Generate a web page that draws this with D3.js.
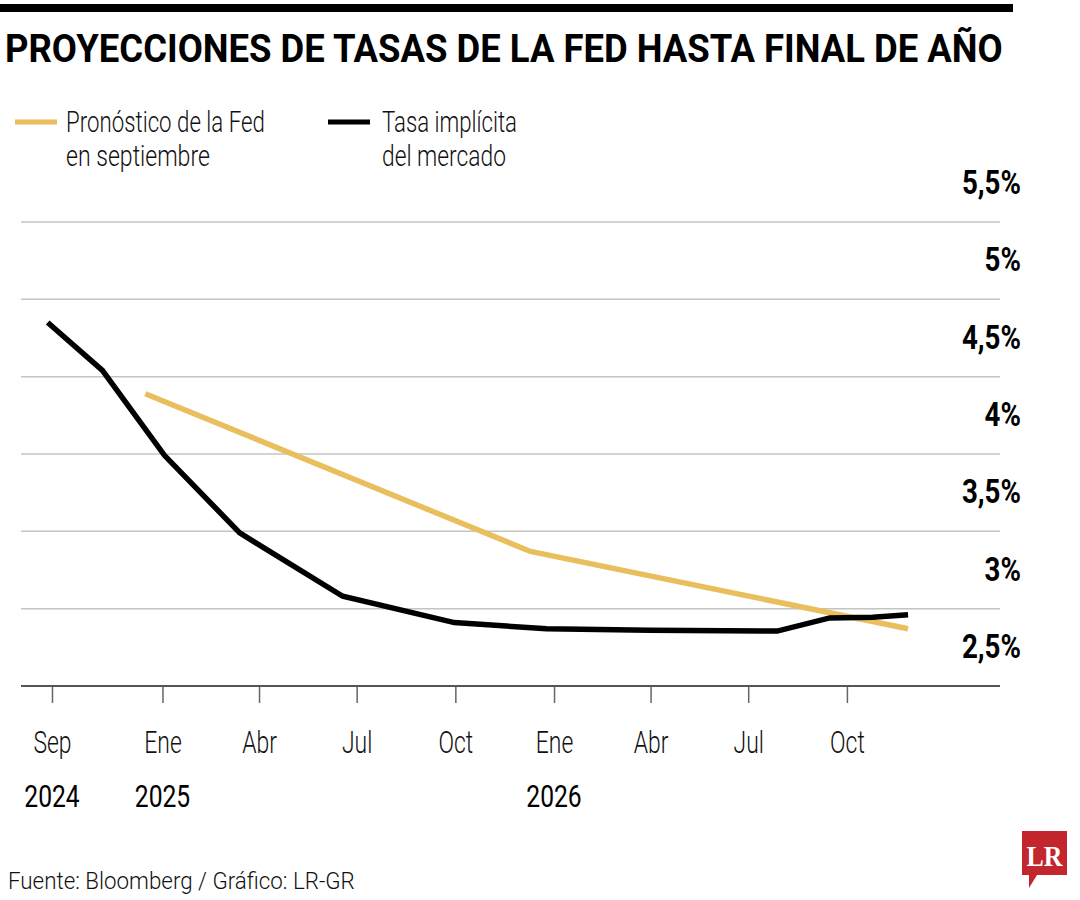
<!DOCTYPE html>
<html>
<head>
<meta charset="utf-8">
<script src="https://cdn.jsdelivr.net/npm/d3@7"></script>
<style>
  html, body { margin: 0; padding: 0; background: #fff; }
  svg { display: block; }
  .cond { font-family: Roboto, "Liberation Sans", "Noto Sans", sans-serif; }
</style>
</head>
<body>
<svg id="chart" width="1080" height="900"></svg>
<script>
// ---- data ----
const titleText = "PROYECCIONES DE TASAS DE LA FED HASTA FINAL DE AÑO";
const seriesNames = ["Pronóstico de la Fed|en septiembre", "Tasa implícita|del mercado"];
const marketDates = ["2024-09-16","2024-11-06","2025-01-03","2025-03-14","2025-06-18","2025-09-30","2025-12-25","2026-03-31","2026-07-28","2026-09-15","2026-10-25","2026-11-27"];
const marketRates = [4.85, 4.54, 3.99, 3.49, 3.08, 2.91, 2.87, 2.86, 2.855, 2.94, 2.945, 2.96];
const fedDates = ["2024-12-16","2025-12-10","2026-11-27"];
const fedRates = [4.39, 3.37, 2.87];
const yTicks = [2.5, 3, 3.5, 4, 4.5, 5, 5.5];
const yTickLabels = ["2,5%", "3%", "3,5%", "4%", "4,5%", "5%", "5,5%"];
const xTickDates = ["2024-09-20","2025-01-01","2025-04-01","2025-07-01","2025-10-01","2026-01-01","2026-04-01","2026-07-01","2026-10-01"];
const xTickLabels = ["Sep","Ene","Abr","Jul","Oct","Ene","Abr","Jul","Oct"];
const yearDates = ["2024-09-20","2025-01-01","2026-01-01"];
const yearLabels = ["2024","2025","2026"];
const sourceText = "Fuente: Bloomberg / Gráfico: LR-GR";

const parse = d3.utcParse("%Y-%m-%d");
const svg = d3.select("#chart");
const COL_FED = "#E9BE5C", COL_MKT = "#000";

// horizontally condense a text node about its anchor x (by factor or to a target width)
function squeeze(node, opts) {
  const w = node.getComputedTextLength();
  const f = opts.width ? opts.width / w : opts.factor;
  const x0 = +(node.getAttribute("x") || 0);
  node.setAttribute("transform", `translate(${x0},0) scale(${f},1) translate(${-x0},0)`);
}

// scales
const x = d3.scaleUtc().domain([parse("2024-09-01"), parse("2027-01-01")]).range([31.6, 945.6]);
const y = d3.scaleLinear().domain([2.5, 5.5]).range([686, 222]);

// top bar
svg.append("rect").attr("x", 0).attr("y", 4).attr("width", 1013).attr("height", 8).attr("fill", "#000");

// title
svg.append("text").attr("class", "cond").attr("x", 5).attr("y", 62)
  .attr("font-size", 38).attr("font-weight", 700).attr("fill", "#000")
  .text(titleText)
  .each(function() { squeeze(this, {width: 998}); });

// legend
const legend = [
  {name: seriesNames[0], color: COL_FED, x0: 15, tx: 66, w: [199, 144]},
  {name: seriesNames[1], color: COL_MKT, x0: 328, tx: 382, w: [135, 124]}
];
legend.forEach(l => {
  svg.append("line").attr("x1", l.x0).attr("x2", l.x0 + 42).attr("y1", 122).attr("y2", 122)
    .attr("stroke", l.color).attr("stroke-width", 5);
  l.name.split("|").forEach((t, i) => {
    svg.append("text").attr("class", "cond").attr("x", l.tx).attr("y", 132 + i * 34)
      .attr("font-size", 29).attr("font-weight", 300).attr("fill", "#111")
      .text(t)
      .each(function() { squeeze(this, {width: l.w[i]}); });
  });
});

// gridlines
svg.append("g").selectAll("line").data(yTicks.filter(v => v > 2.5)).join("line")
  .attr("x1", 21).attr("x2", 1000)
  .attr("y1", d => y(d)).attr("y2", d => y(d))
  .attr("stroke", "#c4c4c4").attr("stroke-width", 1.5);

// y labels (placed half a band above their line)
svg.append("g").selectAll("text").data(yTicks).join("text")
  .attr("class", "cond")
  .attr("x", 1021).attr("y", d => y(d) - 28)
  .attr("text-anchor", "end").attr("font-size", 33).attr("font-weight", 700).attr("fill", "#000")
  .text((d, i) => yTickLabels[i])
  .each(function() { squeeze(this, {factor: 0.84}); });

// x axis
const xAxis = d3.axisBottom(x)
  .tickValues(xTickDates.map(parse))
  .tickFormat((d, i) => xTickLabels[i])
  .tickSize(17).tickPadding(28).tickSizeOuter(0);
const gx = svg.append("g").attr("transform", "translate(0,686)").call(xAxis);
gx.select(".domain").remove();
gx.selectAll(".tick line").attr("stroke", "#666").attr("stroke-width", 1.5);
gx.selectAll(".tick text").attr("class", "cond").attr("font-size", 31).attr("font-weight", 300)
  .attr("fill", "#111").attr("dy", "0.71em")
  .each(function() { squeeze(this, {factor: 0.74}); });
svg.append("line").attr("x1", 21).attr("x2", 1000).attr("y1", 686).attr("y2", 686)
  .attr("stroke", "#555").attr("stroke-width", 2);

// years
svg.append("g").selectAll("text").data(yearDates).join("text")
  .attr("class", "cond")
  .attr("x", d => x(parse(d))).attr("y", 807)
  .attr("text-anchor", "middle").attr("font-size", 32).attr("font-weight", 400).attr("fill", "#000")
  .text((d, i) => yearLabels[i])
  .each(function() { squeeze(this, {factor: 0.77}); });

// lines
const line = d3.line().x(d => x(d.date)).y(d => y(d.v));
const fedData = fedDates.map((d, i) => ({date: parse(d), v: fedRates[i]}));
const mktData = marketDates.map((d, i) => ({date: parse(d), v: marketRates[i]}));
svg.append("path").datum(fedData).attr("d", line).attr("fill", "none")
  .attr("stroke", COL_FED).attr("stroke-width", 5.5);
svg.append("path").datum(mktData).attr("d", line).attr("fill", "none")
  .attr("stroke", COL_MKT).attr("stroke-width", 5.5);

// source
svg.append("text").attr("class", "cond").attr("x", 8).attr("y", 889)
  .attr("font-size", 23).attr("font-weight", 300).attr("fill", "#111")
  .text(sourceText)
  .each(function() { squeeze(this, {width: 347}); });

// LR logo
svg.append("path")
  .attr("d", "M1022,831 H1067 V875 H1037 L1029,888 L1029,875 H1022 Z")
  .attr("fill", "#C4262E");
svg.append("text").attr("x", 1044.5).attr("y", 866).attr("text-anchor", "middle")
  .attr("font-family", "'Liberation Serif', 'DejaVu Serif', serif").attr("font-weight", 700)
  .attr("font-size", 30).attr("fill", "#fff")
  .text("LR")
  .each(function() { squeeze(this, {width: 36}); });
</script>
</body>
</html>
